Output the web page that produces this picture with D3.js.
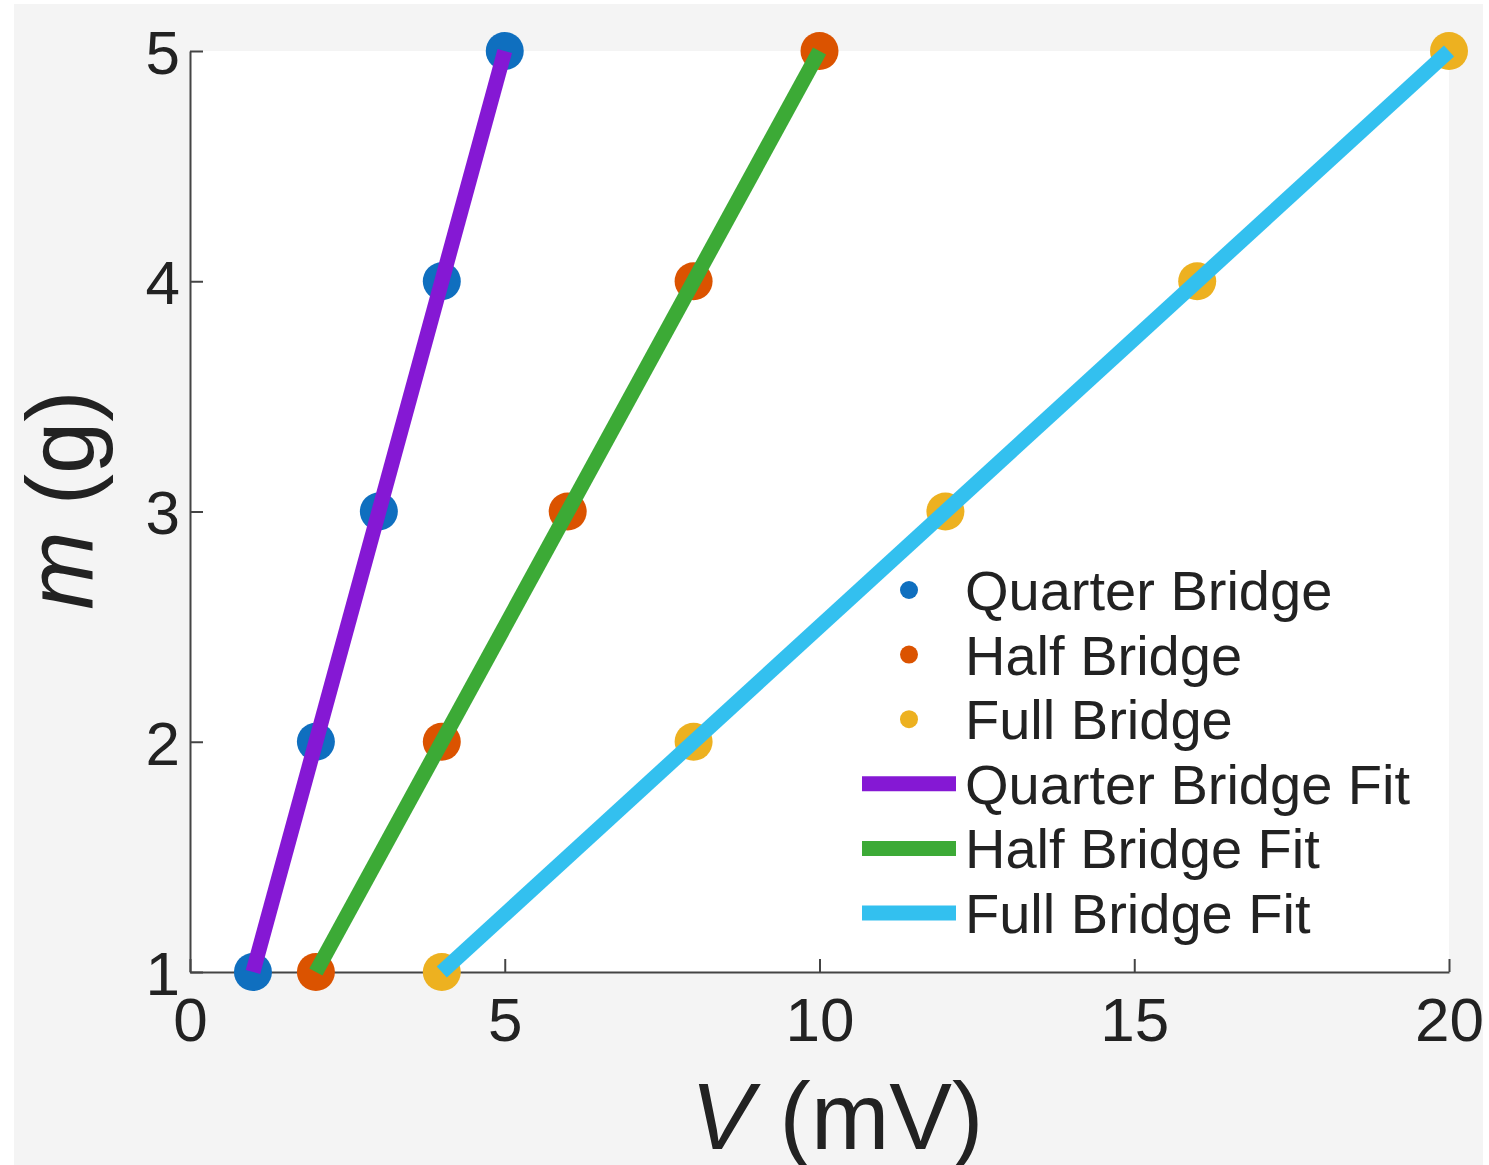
<!DOCTYPE html>
<html>
<head>
<meta charset="utf-8">
<script src="https://cdn.jsdelivr.net/npm/d3@7"></script>
<style>
  body { margin: 0; background: #fff; }
  text { font-family: Arial, "Liberation Sans", Helvetica, sans-serif; white-space: pre; }
</style>
</head>
<body>
<div id="chart"></div>
<script>
// masses (g) and measured voltages (mV)
const masses = [1, 2, 3, 4, 5];
const quarterV = [1, 2, 3, 4, 5];
const halfV = [2, 4, 6, 8, 10];
const fullV = [4, 8, 12, 16, 20];

const xTicks = [0, 5, 10, 15, 20];
const yTicks = [1, 2, 3, 4, 5];

const seriesNames = ['Quarter Bridge', 'Half Bridge', 'Full Bridge'];
const fitNames = ['Quarter Bridge Fit', 'Half Bridge Fit', 'Full Bridge Fit'];

const width = 1489;
const height = 1165;
const margin = { top: 51, right: 40, bottom: 193, left: 190 };

const pointColor = ['#0f6fbf', '#db5300', '#edb120'];
const fitColor = ['#8518d4', '#3caa36', '#33c0ef'];

const series = [quarterV, halfV, fullV].map((vals, i) => ({
    name: seriesNames[i],
    fit: fitNames[i],
    points: vals.map((v, j) => ({ v: v, m: masses[j] }))
}));

const x = d3.scaleLinear()
    .domain([0, 20])
    .range([margin.left, width - margin.right]);

const y = d3.scaleLinear()
    .domain([1, 5])
    .range([height - margin.bottom, margin.top]);

const svg = d3.select('#chart')
    .append('svg')
    .attr('width', width)
    .attr('height', height);

// figure background
svg.append('rect')
    .attr('x', 14).attr('y', 4)
    .attr('width', 1469).attr('height', height - 4)
    .attr('fill', '#f4f4f4');

// axes area
svg.append('rect')
    .attr('x', x(0)).attr('y', y(5))
    .attr('width', x(20) - x(0)).attr('height', y(1) - y(5))
    .attr('fill', '#fff');

// x axis
const xAxis = svg.append('g')
    .attr('transform', `translate(0, ${y(1)})`)
    .call(d3.axisBottom(x).tickValues(xTicks).tickFormat(d3.format('d'))
        .tickSizeInner(-13).tickSizeOuter(0).tickPadding(25));

// y axis
const yAxis = svg.append('g')
    .attr('transform', `translate(${x(0)}, 0)`)
    .call(d3.axisLeft(y).tickValues(yTicks).tickFormat(d3.format('d'))
        .tickSizeInner(-13).tickSizeOuter(0).tickPadding(10));

[xAxis, yAxis].forEach(g => {
    g.select('.domain').attr('stroke', '#444').attr('stroke-width', 2);
    g.selectAll('.tick line').attr('stroke', '#444').attr('stroke-width', 2);
    g.selectAll('.tick text')
        .attr('fill', '#222')
        .attr('font-size', '62px')
        .attr('font-family', 'Arial, "Liberation Sans", sans-serif');
});
yAxis.selectAll('.tick text').attr('dy', '0.36em');

// axis labels
const xLabel = svg.append('text')
    .attr('x', 837)
    .attr('y', 1149)
    .attr('text-anchor', 'middle')
    .attr('font-size', '94px')
    .attr('fill', '#222');
xLabel.append('tspan').attr('font-style', 'italic').text('V');
xLabel.append('tspan').text(' (mV)');

const yLabel = svg.append('text')
    .attr('transform', `translate(93, 500) rotate(-90)`)
    .attr('text-anchor', 'middle')
    .attr('font-size', '94px')
    .attr('fill', '#222');
yLabel.append('tspan').attr('font-style', 'italic').text('m');
yLabel.append('tspan').text(' (g)');

// data points
series.forEach((s, i) => {
    svg.append('g')
        .selectAll('circle')
        .data(s.points)
        .join('circle')
        .attr('cx', d => x(d.v))
        .attr('cy', d => y(d.m))
        .attr('r', 19)
        .attr('fill', pointColor[i]);
});

// fit lines
const line = d3.line()
    .x(d => x(d.v))
    .y(d => y(d.m));

series.forEach((s, i) => {
    const ends = [s.points[0], s.points[s.points.length - 1]];
    svg.append('path')
        .datum(ends)
        .attr('d', line)
        .attr('fill', 'none')
        .attr('stroke', fitColor[i])
        .attr('stroke-width', 15)
        .attr('stroke-linecap', 'butt');
});

// legend
const legendTop = 590;
const legendStep = 64.6;
const legendItems = seriesNames.map((n, i) => ({ label: n, type: 'dot', color: pointColor[i] }))
    .concat(fitNames.map((n, i) => ({ label: n, type: 'line', color: fitColor[i] })));

const legend = svg.append('g');
const entries = legend.selectAll('g')
    .data(legendItems)
    .join('g')
    .attr('transform', (d, i) => `translate(0, ${legendTop + i * legendStep})`);

entries.filter(d => d.type === 'dot')
    .append('circle')
    .attr('cx', 909)
    .attr('r', 9)
    .attr('fill', d => d.color);

entries.filter(d => d.type === 'line')
    .append('line')
    .attr('x1', 862).attr('x2', 956)
    .attr('stroke', d => d.color)
    .attr('stroke-width', 15);

entries.append('text')
    .attr('x', 965)
    .attr('y', 20)
    .attr('font-size', '56px')
    .attr('fill', '#222')
    .text(d => d.label);
</script>
</body>
</html>
